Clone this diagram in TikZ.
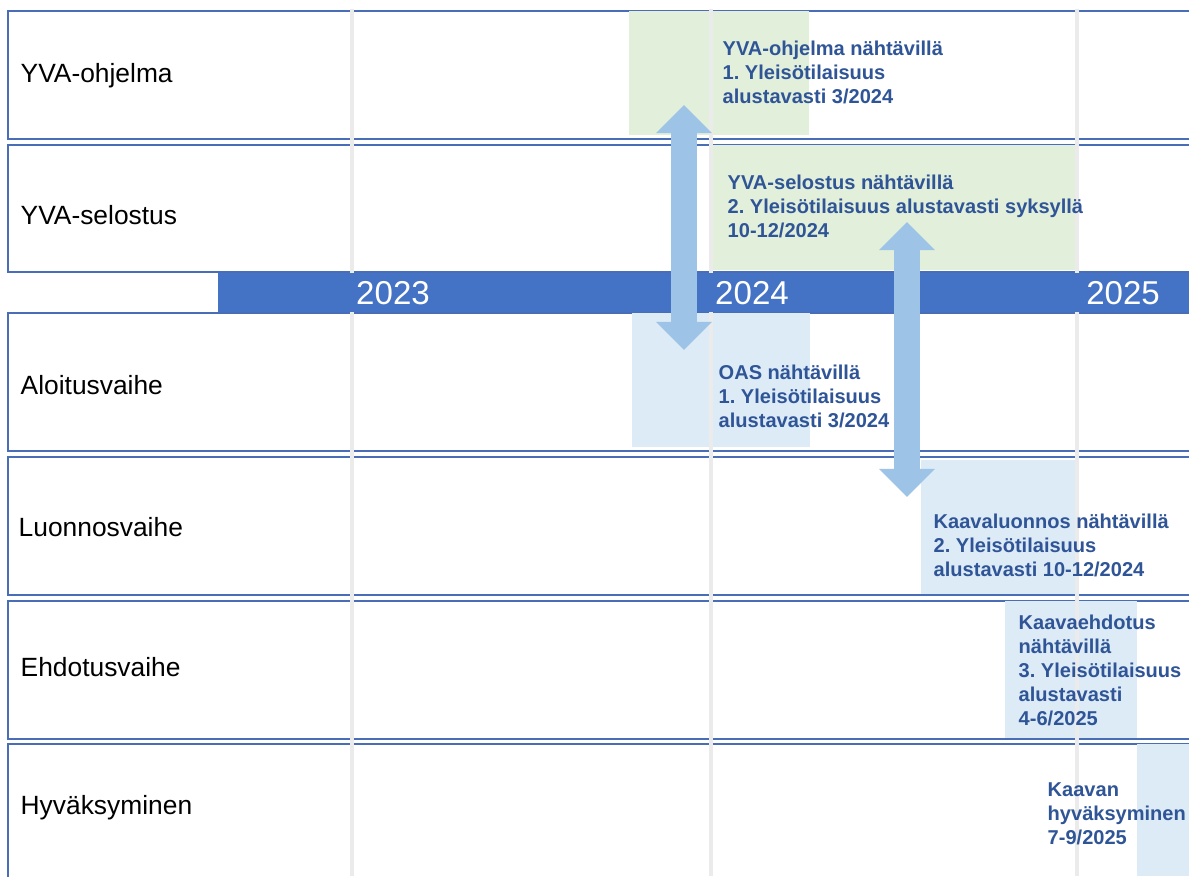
\documentclass[tikz,border=0pt]{standalone}
\usepackage{fontspec}
\setmainfont{Liberation Sans}
\usetikzlibrary{arrows.meta, positioning}
\frenchspacing

\definecolor{rowblue}{HTML}{4A6DB8}
\definecolor{yearblue}{HTML}{4472C4}
\definecolor{textblue}{HTML}{2F5597}
\definecolor{palegreen}{HTML}{E2EFDA}
\definecolor{paleblue}{HTML}{DDEBF7}
\definecolor{arrowblue}{HTML}{9DC3E6}
\definecolor{gridgray}{HTML}{EBEBEB}

\tikzset{
  phase/.style={draw=rowblue, line width=0.015cm},
  rowlabel/.style={anchor=west, inner sep=0pt, font=\fontsize{7.5}{9}\selectfont},
  note/.style={anchor=north west, align=left, inner sep=0pt, text=textblue, font=\bfseries\fontsize{5.7}{6.83}\selectfont},
  yearlabel/.style={text=white, inner sep=0pt, font=\fontsize{9.4}{11}\selectfont},
  twoway/.style={arrowblue, line width=0.26cm, {Triangle[length=0.28cm,width=0.54cm]}-{Triangle[length=0.28cm,width=0.54cm]}}
}

\begin{document}
\begin{tikzpicture}[x=0.01cm, y=-0.01cm]

\clip (0,0) rectangle (1189,876);
\fill[white] (0,0) rectangle (1189,876);

% Phase rows
\draw[phase] (8,11) rectangle (1200,139);
\draw[phase] (8,145) rectangle (1200,272);
\draw[phase] (8,313) rectangle (1200,451);
\draw[phase] (8,457) rectangle (1200,595);
\draw[phase] (8,601) rectangle (1200,739);
\draw[phase] (8,744) rectangle (1200,890);

% Periods
\fill[palegreen] (629,11) rectangle (809,135);
\fill[palegreen] (711,145) rectangle (1075,270);
\fill[paleblue] (632,313) rectangle (810,447);
\fill[paleblue] (921,460) rectangle (1075,594);
\fill[paleblue] (1005,601) rectangle (1137,738);
\fill[paleblue] (1137,744) rectangle (1189,876);

% Year lines
\draw[gridgray, line width=0.045cm] (352,9) -- (352,876);
\draw[gridgray, line width=0.045cm] (711,9) -- (711,876);
\draw[gridgray, line width=0.045cm] (1077,9) -- (1077,876);

% Time axis
\fill[yearblue] (218,273) rectangle (1189,312);
\node[yearlabel] (y23) at (393,293) {2023};
\node[yearlabel] (y24) at (752,293) {2024};
\node[yearlabel] (y25) at (1123,293) {2025};

% Row labels
\node[rowlabel] (yvaohj) at (20,76) {YVA-ohjelma};
\node[rowlabel] (yvasel) at (20,215) {YVA-selostus};
\node[rowlabel] (aloit) at (20,385) {Aloitusvaihe};
\node[rowlabel] (luonn) at (18,527) {Luonnosvaihe};
\node[rowlabel] (ehdot) at (20,667) {Ehdotusvaihe};
\node[rowlabel] (hyvak) at (20,808) {Hyväksyminen};

% Notes
\node[note] (n1) at (722,40) {YVA-ohjelma nähtävillä\\1. Yleisötilaisuus\\alustavasti 3/2024};
\node[note] (n2) at (727,174) {YVA-selostus nähtävillä\\2. Yleisötilaisuus alustavasti syksyllä\\10-12/2024};
\node[note] (n3) at (718,364) {OAS nähtävillä\\1. Yleisötilaisuus\\alustavasti 3/2024};
\node[note] (n4) at (933,513) {Kaavaluonnos nähtävillä\\2. Yleisötilaisuus\\alustavasti 10-12/2024};
\node[note] (n5) at (1018,614) {Kaavaehdotus\\nähtävillä\\3. Yleisötilaisuus\\alustavasti\\4-6/2025};
\node[note] (n6) at (1047,782) {Kaavan\\hyväksyminen\\7-9/2025};

% Links between procedures
\coordinate (a1top) at (684,105);
\coordinate (a1bot) at (684,350);
\coordinate (a2top) at (907,222);
\coordinate (a2bot) at (907,497);
\draw[twoway] (a1top) -- (a1bot);
\draw[twoway] (a2top) -- (a2bot);

\end{tikzpicture}
\end{document}
